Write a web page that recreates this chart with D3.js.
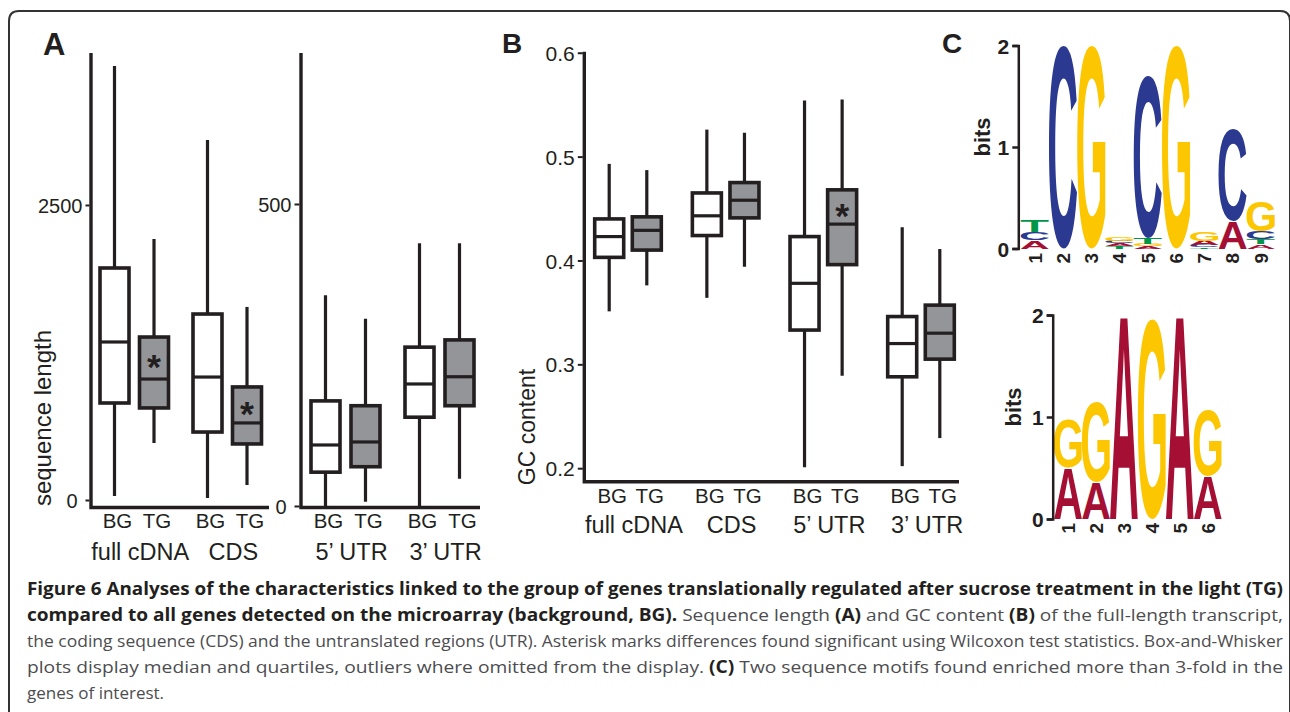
<!DOCTYPE html>
<html>
<head>
<meta charset="utf-8">
<script src="https://cdn.jsdelivr.net/npm/d3@7"></script>
<style>
  body { margin: 0; background: #fff; }
  svg text { font-family: "Liberation Sans", Arial, Helvetica, sans-serif; }
</style>
</head>
<body>
<svg id="fig" width="1290" height="712"></svg>
<script>
// ---- data ----
const sets = ["BG", "TG"];
const groupsA1 = ["full cDNA", "CDS"];
const groupsA2 = ["5’ UTR", "3’ UTR"];
const groupsB = ["full cDNA", "CDS", "5’ UTR", "3’ UTR"];

// five-number summaries: [lower whisker, Q1, median, Q3, upper whisker], BG then TG for each group
const lengthCdna = [
  [34, 822, 1339, 1966, 3678], [483, 780, 1025, 1381, 2212],
  [17, 576, 1042, 1576, 3051], [127, 475, 653, 958, 1636]
];
const lengthUtr = [
  [0, 56, 101, 174, 349], [7, 65, 106, 166, 310],
  [0, 147, 202, 263, 435], [45, 166, 214, 275, 435]
];
const gcContent = [
  [0.351, 0.403, 0.423, 0.440, 0.493], [0.376, 0.410, 0.429, 0.442, 0.487],
  [0.364, 0.424, 0.443, 0.465, 0.526], [0.394, 0.441, 0.458, 0.475, 0.523],
  [0.201, 0.333, 0.378, 0.423, 0.554], [0.289, 0.396, 0.435, 0.468, 0.555],
  [0.202, 0.288, 0.320, 0.346, 0.432], [0.229, 0.305, 0.330, 0.357, 0.411]
];
const sigCdna = [false, true, false, true];
const sigUtr = [false, false, false, false];
const sigGc = [false, false, false, false, false, true, false, false];

const ticksA1 = [0, 2500];
const ticksA2 = [0, 500];
const ticksB = [0.2, 0.3, 0.4, 0.5, 0.6];

// sequence logos, letters listed bottom to top with their height in bits
const motif1 = [
  [["A", 0.08], ["C", 0.08], ["T", 0.12]],
  [["C", 2.0]],
  [["G", 2.0]],
  [["T", 0.02], ["A", 0.03], ["C", 0.025], ["G", 0.035]],
  [["A", 0.02], ["G", 0.02], ["T", 0.06], ["C", 1.60]],
  [["G", 2.0]],
  [["T", 0.01], ["C", 0.02], ["A", 0.045], ["G", 0.09]],
  [["A", 0.27], ["C", 0.91]],
  [["A", 0.04], ["T", 0.05], ["C", 0.08], ["G", 0.30]]
];
const motif2 = [
  [["A", 0.50], ["G", 0.48]],
  [["A", 0.36], ["G", 0.79]],
  [["A", 2.0]],
  [["G", 1.96]],
  [["A", 2.0]],
  [["A", 0.42], ["G", 0.64]]
];
const bitTicks = [0, 1, 2];

const captionLines = [
  [["b", "Figure 6 Analyses of the characteristics linked to the group of genes translationally regulated after sucrose treatment in the light (TG)"]],
  [["b", "compared to all genes detected on the microarray (background, BG)."], ["r", " Sequence length "], ["b", "(A)"],
   ["r", " and GC content "], ["b", "(B)"], ["r", " of the full-length transcript,"]],
  [["r", "the coding sequence (CDS) and the untranslated regions (UTR). Asterisk marks differences found significant using Wilcoxon test statistics. Box-and-Whisker"]],
  [["r", "plots display median and quartiles, outliers where omitted from the display. "], ["b", "(C)"],
   ["r", " Two sequence motifs found enriched more than 3-fold in the"]],
  [["r", "genes of interest."]]
];

// ---- styles ----
const ink = "#231f20";
const boxFill = { BG: "#ffffff", TG: "#939598" };
const baseColor = { A: "#a50f34", C: "#2b3990", G: "#fcc600", T: "#009648" };
const glyphFont = "bold 100px 'Liberation Sans'";

const svg = d3.select("#fig");

// rounded frame around the figure
svg.append("path")
  .attr("d", "M9,712 V21 Q9,11 19,11 H1280 Q1290,11 1290,21 V712")
  .attr("fill", "none")
  .attr("stroke", "#333")
  .attr("stroke-width", 2);

// stretch one glyph so that its ink fills the given box
const ctx = document.createElement("canvas").getContext("2d");
function fitGlyph(g, ch, x0, x1, yTop, yBottom, color) {
  ctx.font = glyphFont;
  const m = ctx.measureText(ch);
  const w = m.actualBoundingBoxLeft + m.actualBoundingBoxRight;
  const h = m.actualBoundingBoxAscent + m.actualBoundingBoxDescent;
  const sx = (x1 - x0) / w, sy = (yBottom - yTop) / h;
  g.append("text")
    .attr("transform", `translate(${x0 + m.actualBoundingBoxLeft * sx},${yBottom - m.actualBoundingBoxDescent * sy}) scale(${sx},${sy})`)
    .style("font", glyphFont)
    .attr("fill", color)
    .text(ch);
}

function panelLetter(label, x, y, size) {
  svg.append("text")
    .attr("x", x).attr("y", y)
    .attr("font-size", size)
    .attr("font-weight", "bold")
    .attr("fill", ink)
    .text(label);
}

function rotatedLabel(label, x, y, size, weight) {
  svg.append("text")
    .attr("transform", `translate(${x},${y}) rotate(-90)`)
    .attr("text-anchor", "middle")
    .attr("font-size", size)
    .attr("font-weight", weight || "normal")
    .attr("fill", ink)
    .text(label);
}

// ---- box-and-whisker panels ----
function boxPanel(o) {
  const g = svg.append("g");
  const y = d3.scaleLinear().domain(o.domain).range([o.bottom, o.top]);
  const gx = d3.scalePoint().domain(o.groups).range(o.centers);
  const sx = d3.scalePoint().domain(sets).range([-o.half, o.half]);
  const bw = 29;

  const rows = o.groups.flatMap((grp, i) => sets.map((s, j) => ({
    grp, s, v: o.stats[i * 2 + j], sig: o.sig[i * 2 + j]
  })));
  const cx = d => gx(d.grp) + sx(d.s);

  // whiskers (one line, the box covers the middle part)
  g.selectAll("line.whisker").data(rows).join("line")
    .attr("class", "whisker")
    .attr("x1", cx).attr("x2", cx)
    .attr("y1", d => y(d.v[0])).attr("y2", d => y(d.v[4]))
    .attr("stroke", ink).attr("stroke-width", 3.2);

  g.selectAll("rect.box").data(rows).join("rect")
    .attr("class", "box")
    .attr("x", d => cx(d) - bw / 2)
    .attr("y", d => y(d.v[3]))
    .attr("width", bw)
    .attr("height", d => y(d.v[1]) - y(d.v[3]))
    .attr("fill", d => boxFill[d.s])
    .attr("stroke", ink).attr("stroke-width", 3.6);

  g.selectAll("line.median").data(rows).join("line")
    .attr("class", "median")
    .attr("x1", d => cx(d) - bw / 2).attr("x2", d => cx(d) + bw / 2)
    .attr("y1", d => y(d.v[2])).attr("y2", d => y(d.v[2]))
    .attr("stroke", ink).attr("stroke-width", 3.2);

  // significance asterisks between median and upper quartile
  rows.filter(d => d.sig).forEach(d => {
    const cy = (y(d.v[2]) + y(d.v[3])) / 2 + 4;
    fitGlyph(g, "*", cx(d) - 7, cx(d) + 7, cy - 6.5, cy + 6.5, ink);
  });

  // L-shaped axis frame
  g.append("path")
    .attr("d", `M${o.left},${o.top} V${o.bottom} H${o.right}`)
    .attr("fill", "none")
    .attr("stroke", ink).attr("stroke-width", 3.4);

  g.append("g")
    .attr("transform", `translate(${o.left - 1.5},0)`)
    .call(d3.axisLeft(y).tickValues(o.ticks).tickSize(o.tickLen).tickPadding(3).tickFormat(o.fmt))
    .call(a => a.select(".domain").remove())
    .call(a => a.selectAll(".tick line").attr("stroke", ink).attr("stroke-width", 2))
    .call(a => a.selectAll(".tick text")
      .attr("font-size", o.tickFont)
      .attr("fill", ink)
      .attr("dy", "0.36em")
      .attr("dx", d => d === 0 ? o.zeroDx : 0));

  // BG / TG labels and group names
  g.selectAll("text.set").data(rows).join("text")
    .attr("class", "set")
    .attr("x", d => cx(d) + 3)
    .attr("y", o.setY)
    .attr("text-anchor", "middle")
    .attr("font-size", 20.5)
    .attr("fill", ink)
    .text(d => d.s);

  g.selectAll("text.grp").data(o.groups).join("text")
    .attr("class", "grp")
    .attr("x", d => gx(d) + 6)
    .attr("y", o.grpY)
    .attr("text-anchor", "middle")
    .attr("font-size", 23.5)
    .attr("fill", ink)
    .text(d => d);
}

boxPanel({
  groups: groupsA1, stats: lengthCdna, sig: sigCdna,
  domain: [-63.6, 3788], ticks: ticksA1, fmt: d3.format("d"),
  left: 91, right: 269, top: 53, bottom: 507.5,
  centers: [134.25, 227.25], half: 19.75,
  tickLen: 4, tickFont: 20, zeroDx: -5, setY: 528, grpY: 560
});
boxPanel({
  groups: groupsA2, stats: lengthUtr, sig: sigUtr,
  domain: [-2.5, 750], ticks: ticksA2, fmt: d3.format("d"),
  left: 301, right: 480, top: 53, bottom: 507.5,
  centers: [345.5, 439.5], half: 20,
  tickLen: 5, tickFont: 20, zeroDx: -5, setY: 528, grpY: 560
});
boxPanel({
  groups: groupsB, stats: gcContent, sig: sigGc,
  domain: [0.187, 0.601], ticks: ticksB, fmt: d3.format(".1f"),
  left: 584.3, right: 959, top: 51.7, bottom: 481.7,
  centers: [628, 921], half: 18.8,
  tickLen: 5, tickFont: 21, zeroDx: 0, setY: 503, grpY: 533
});

panelLetter("A", 43, 55, 31);
panelLetter("B", 502, 53, 28);
panelLetter("C", 942, 53, 28);
rotatedLabel("sequence length", 51, 418, 24);
rotatedLabel("GC content", 535, 427, 23);

// ---- sequence logos ----
function logo(o) {
  const g = svg.append("g");
  const y = d3.scaleLinear().domain([0, 2]).range([o.y0, o.y2]);
  const x = d3.scaleBand().domain(o.cols.map((c, i) => i + 1)).range([o.x0, o.x1]);

  o.cols.forEach((col, i) => {
    let acc = 0;
    col.forEach(([ch, bits]) => {
      fitGlyph(g, ch, x(i + 1), x(i + 1) + x.bandwidth(), y(acc + bits), y(acc), baseColor[ch]);
      acc += bits;
    });
  });

  g.append("g")
    .attr("transform", `translate(${o.axisX},0)`)
    .call(d3.axisLeft(y).tickValues(bitTicks).tickSize(6).tickPadding(3).tickFormat(d3.format("d")))
    .call(a => a.selectAll("path, line").attr("stroke", ink).attr("stroke-width", 2.5))
    .call(a => a.selectAll(".tick text")
      .attr("font-size", 21).attr("font-weight", "bold").attr("fill", ink).attr("dy", "0.36em"));

  // rotated position numbers
  g.selectAll("text.pos").data(o.cols.map((c, i) => i + 1)).join("text")
    .attr("class", "pos")
    .attr("transform", d => `translate(${x(d) + x.bandwidth() / 2},${o.numY}) rotate(-90)`)
    .attr("dy", "0.36em")
    .attr("text-anchor", "end")
    .attr("font-size", 19)
    .attr("font-weight", "bold")
    .attr("fill", ink)
    .text(d => d);

  rotatedLabel("bits", o.bitsX, o.bitsY, 22, "bold");
}

logo({ cols: motif1, x0: 1020.7, x1: 1275, y0: 248.5, y2: 45.5, axisX: 1018.3, numY: 253, bitsX: 990, bitsY: 137 });
logo({ cols: motif2, x0: 1054, x1: 1221.7, y0: 519, y2: 315, axisX: 1052.7, numY: 523, bitsX: 1021, bitsY: 407 });

// ---- caption ----
const caption = svg.append("g")
  .style("font-family", "'Open Sans', 'Noto Sans', sans-serif")
  .style("white-space", "pre");

captionLines.forEach((parts, i) => {
  const t = caption.append("text")
    .attr("x", 27)
    .attr("y", 595 + i * 26)
    .style("font-family", "'Open Sans', 'Noto Sans', sans-serif")
    .attr("font-size", 17);
  parts.forEach(([w, s]) => {
    t.append("tspan")
      .attr("font-weight", w === "b" ? "bold" : "normal")
      .attr("fill", w === "b" ? ink : "#4d4d4f")
      .text(s);
  });
  // the first four lines are justified to the full width
  if (i < captionLines.length - 1) {
    t.attr("textLength", 1256).attr("lengthAdjust", "spacingAndGlyphs");
  }
});
</script>
</body>
</html>
